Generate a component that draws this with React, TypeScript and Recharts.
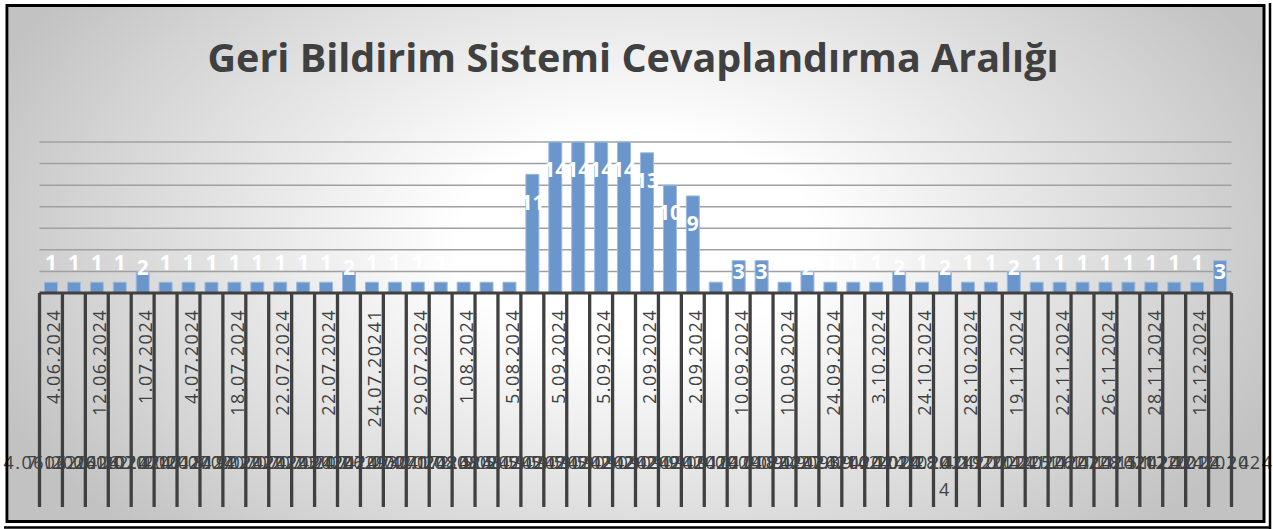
import React from 'react';
import { BarChart, Bar, XAxis, YAxis, CartesianGrid, LabelList } from 'recharts';

document.body.style.margin = '0';

const title = 'Geri Bildirim Sistemi Cevaplandırma Aralığı';

// one entry per response; odd ones only show up in the crowded bottom row
const dates = [
  '4.06.2024', '7.06.2024', '12.06.2024', '20.06.2024', '1.07.2024', '2.07.2024',
  '4.07.2024', '10.07.2024', '18.07.2024', '19.07.2024', '22.07.2024', '22.07.2024',
  '22.07.2024', '23.07.2024', '24.07.20241', '26.07.2024', '29.07.2024', '30.07.2024',
  '1.08.2024', '2.08.2024', '5.08.2024', '5.09.2024', '5.09.2024', '5.09.2024',
  '5.09.2024', '5.09.2024', '2.09.2024', '2.09.2024', '2.09.2024', '9.09.2024',
  '10.09.2024', '10.09.2024', '10.09.2024', '18.09.2024', '24.09.2024', '27.09.2024',
  '3.10.2024', '14.10.2024', '24.10.2024', '24.10.202\n4', '28.10.2024', '4.11.2024',
  '19.11.2024', '20.11.2024', '22.11.2024', '25.11.2024', '26.11.2024', '27.11.2024',
  '28.11.2024', '5.12.2024', '12.12.2024', '20.12.2024',
];

const counts = [
  1, 1, 1, 1, 2, 1, 1, 1, 1, 1, 1, 1, 1, 2,
  1, 1, 1, 1, 1, 1, 1,
  11, 14, 14, 14, 14, 13, 10, 9,
  1, 3, 3, 1, 2, 1, 1, 1, 2, 1, 2, 1, 1, 2, 1, 1, 1, 1, 1, 1, 1, 1, 3,
];

const yTicks = [0, 2, 4, 6, 8, 10, 12, 14];

const data = dates.map((date, i) => ({ date, count: counts[i] }));

const W = 1273;
const H = 529;
const M = { top: 142, right: 41.5, bottom: 0, left: 39.5 };
const BAND = (W - M.left - M.right) / dates.length;
const DARK = '#404040';
const FONT = '"Open Sans", sans-serif';

const renderCountLabel = (props: any) => {
  const { x, y, width, height, value } = props;
  const base = y + height;
  const cy = value >= 4 ? y + 28 : base - 30 + (value - 1) * 4.5;
  return (
    <text
      x={x + width / 2}
      y={cy}
      dy="0.35em"
      textAnchor="middle"
      fill="#ffffff"
      fontSize={21}
      fontWeight={700}
      fontFamily={FONT}
    >
      {value}
    </text>
  );
};

const DateTick = (props: any) => {
  const { x, y, payload, index } = props;
  const i = payload?.index ?? index;
  const value = String(payload.value);
  const rows = value.split('\n');
  const half = BAND / 2;
  const lineBottom = y + 214;
  return (
    <g>
      {rows.map((row, k) => (
        <text
          key={k}
          x={x}
          y={y + 170 + k * 27}
          dy="0.35em"
          textAnchor="middle"
          fill={DARK}
          fontSize={18}
          letterSpacing={1.5}
          fontFamily={FONT}
        >
          {row}
        </text>
      ))}
      {i % 2 === 0 && (
        <text
          x={x + 3}
          y={y + 16}
          dy="0.35em"
          textAnchor="end"
          transform={`rotate(-90, ${x + 3}, ${y + 16})`}
          fill={DARK}
          fontSize={18}
          letterSpacing={1.5}
          fontFamily={FONT}
        >
          {value.replace('\n', '')}
        </text>
      )}
      <line x1={x - half} x2={x - half} y1={y} y2={lineBottom} stroke={DARK} strokeWidth={3.3} />
      {i === dates.length - 1 && (
        <line x1={x + half} x2={x + half} y1={y} y2={lineBottom} stroke={DARK} strokeWidth={3.3} />
      )}
    </g>
  );
};

export default function App() {
  return (
    <div style={{ position: 'relative', width: W, height: H, overflow: 'hidden', background: '#ffffff' }}>
      <div
        style={{
          position: 'absolute',
          left: 9,
          top: 7,
          width: 1254,
          height: 514,
          background:
            'radial-gradient(700px 420px at 50% 45%, #ffffff 0%, #ffffff 25%, #efefef 45%, #d3d3d3 80%, #c2c2c2 100%)',
        }}
      />
      <div style={{ position: 'absolute', left: 0, top: 0 }}>
        <BarChart width={W} height={H} data={data} margin={M} barSize={13}>
          <CartesianGrid horizontal vertical={false} stroke="#a0a0a0" strokeWidth={1.5} />
          <YAxis hide domain={[0, 14]} ticks={yTicks} interval={0} />
          <XAxis
            dataKey="date"
            height={236}
            interval={0}
            tickLine={false}
            tickSize={0}
            tickMargin={0}
            axisLine={{ stroke: DARK, strokeWidth: 3 }}
            tick={<DateTick />}
          />
          <Bar dataKey="count" fill="#6A96CB" stroke="#9DBBE0" strokeWidth={1} isAnimationActive={false}>
            <LabelList dataKey="count" content={renderCountLabel} />
          </Bar>
        </BarChart>
      </div>
      <svg
        width={W}
        height={H}
        style={{ position: 'absolute', left: 0, top: 0, pointerEvents: 'none' }}
      >
        <text
          x={633}
          y={72}
          textAnchor="middle"
          fill={DARK}
          fontSize={39.5}
          fontWeight={700}
          fontFamily={FONT}
        >
          {title}
        </text>
        {/* frame: single on top/left, doubled on right/bottom */}
        <rect x={7} y={5.5} width={1257} height={516} fill="none" stroke="#000000" strokeWidth={3} />
        <line x1={4} x2={1271} y1={527.5} y2={527.5} stroke="#000000" strokeWidth={2.5} />
        <line x1={1270} x2={1270} y1={3} y2={529} stroke="#000000" strokeWidth={2.5} />
      </svg>
    </div>
  );
}
